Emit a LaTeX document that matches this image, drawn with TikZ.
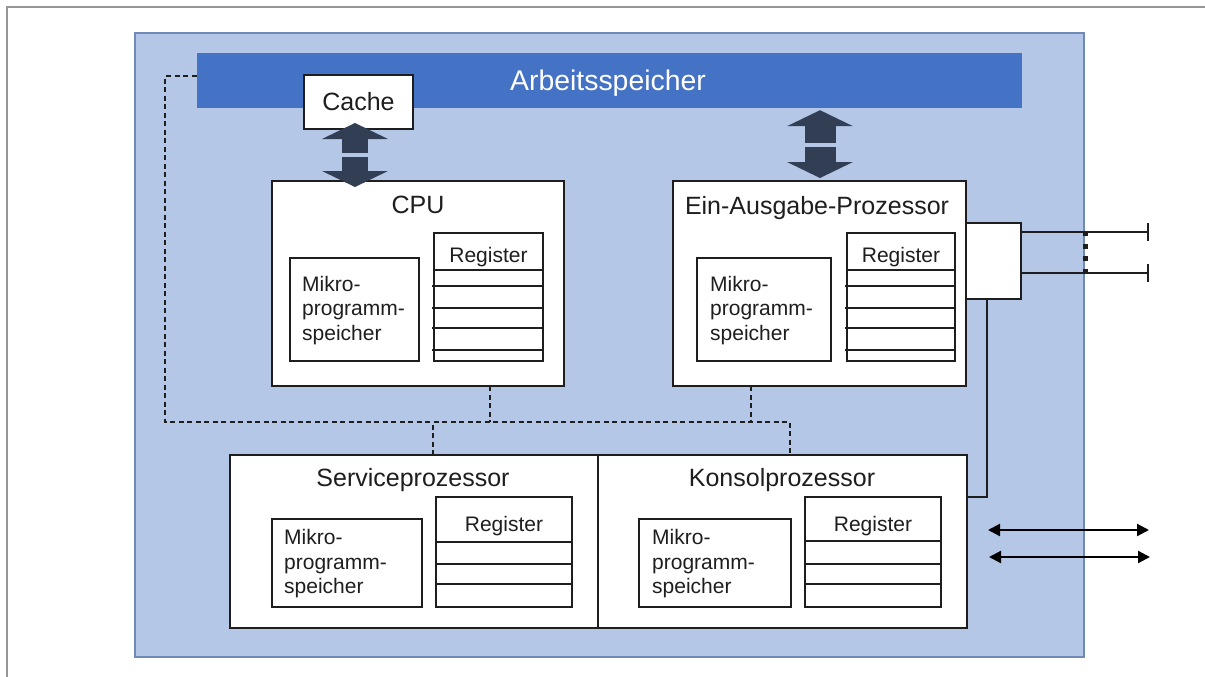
\documentclass[tikz,border=0pt]{standalone}
\usepackage{fontspec}
\setmainfont{Liberation Sans}
\usetikzlibrary{fit,arrows.meta,calc}
\definecolor{bgblue}{HTML}{B4C7E7}
\definecolor{bgedge}{RGB}{112,138,184}
\definecolor{membar}{HTML}{4472C4}
\definecolor{arrdark}{RGB}{50,62,84}
\definecolor{ink}{RGB}{30,30,30}
\definecolor{framegray}{RGB}{150,150,150}
\begin{document}
\begin{tikzpicture}[x=1pt,y=-1pt,
  box/.style={draw=ink, line width=2.2pt, fill=white, inner sep=0pt, outer sep=0pt},
  titletext/.style={font=\fontsize{25}{30}\selectfont, text=ink, inner sep=0pt, anchor=base},
  smalltext/.style={font=\fontsize{21}{24.5}\selectfont, text=ink, inner sep=0pt},
  regline/.style={draw=ink, line width=1.8pt},
  dl/.style={draw=ink, line width=2pt, dash pattern=on 5pt off 3.5pt},
  conn/.style={draw=ink, line width=2.6pt},
  blockarrow/.style={draw=arrdark, line width=#1, -{Triangle[length=16pt,width=66pt,line width=0pt]}},
  dblarrow/.style={draw=black, line width=2.2pt, {Triangle[length=12pt,width=12pt]}-{Triangle[length=12pt,width=12pt]}},
  barend/.style={draw=ink, line width=2.2pt, -{Bar[width=18pt,line width=2.2pt]}}
]
\useasboundingbox (0,0) rectangle (1205,677);
% outer frame
\draw[framegray, line width=2.5pt] (7,677) -- (7,7) -- (1205,7);

% system background
\node[fill=bgblue, draw=bgedge, line width=1.6pt, inner sep=0pt, fit={(135,33) (1084,657)}] (sys) {};
% main memory bar
\node[fill=membar, inner sep=0pt, fit={(197,53) (1022,108)}] (mem) {};
\node[font=\fontsize{28.4}{34}\selectfont, text=white, inner sep=0pt] (memlabel) at (608,83) {Arbeitsspeicher};

% dashed service bus
\coordinate (busl) at (165,422);
\draw[dl] ([yshift=4pt]mem.west) -| (busl) -| (790,455);

% CPU
\node[box, fit={(272,181) (564,386)}] (cpu) {};
\node[titletext] (cputitle) at (418,213) {CPU};
\node[box, fit={(290,258) (419,361)}] (cpump) {};
\node[smalltext, align=left, anchor=west] (cpumptext) at ([xshift=12pt,yshift=-1pt]cpump.west) {Mikro-\\programm-\\speicher};
\node[box, fit={(434,233) (543,361)}] (cpureg) {};
\node[smalltext, anchor=base] (cpuregtext) at (cpureg.north |- 0,262) {Register};
\draw[regline] (cpureg.west |- 0,270) -- (cpureg.east |- 0,270);
\foreach \yy in {286,308,328,350}
  \draw[regline] ([xshift=-2pt]cpureg.west |- 0,\yy) -- (cpureg.east |- 0,\yy);

% Ein-Ausgabe-Prozessor
\node[box, fit={(673,181) (966,386)}] (eap) {};
\node[titletext] (eaptitle) at (817,214) {Ein-Ausgabe-Prozessor};
\node[box, fit={(697,258) (831,361)}] (eapmp) {};
\node[smalltext, align=left, anchor=west] (eapmptext) at ([xshift=13pt,yshift=-1pt]eapmp.west) {Mikro-\\programm-\\speicher};
\node[box, fit={(847,233) (955,361)}] (eapreg) {};
\node[smalltext, anchor=base] (eapregtext) at (eapreg.north |- 0,262) {Register};
\draw[regline] (eapreg.west |- 0,270) -- (eapreg.east |- 0,270);
\foreach \yy in {286,308,328,350}
  \draw[regline] ([xshift=-2pt]eapreg.west |- 0,\yy) -- (eapreg.east |- 0,\yy);

% port box
\node[box, fit={(966,223) (1021,299)}] (port) {};
\coordinate (t1) at (1149,232);
\coordinate (t2) at (1149,273);
\draw[barend] (port.east |- t1) -- (t1);
\draw[barend] (port.east |- t2) -- (t2);
\draw[draw=ink, line width=5pt, dash pattern=on 5pt off 7.5pt] (1085,231) -- (1085,275);

% Serviceprozessor
\node[box, fit={(230,455) (598,628)}] (serv) {};
\node[titletext] (servtitle) at (413,486) {Serviceprozessor};
\node[box, fit={(272,519) (422,607)}] (servmp) {};
\node[smalltext, align=left, anchor=west] (servmptext) at ([xshift=12pt,yshift=-1pt]servmp.west) {Mikro-\\programm-\\speicher};
\node[box, fit={(436,497) (572,607)}] (servreg) {};
\node[smalltext, anchor=base] (servregtext) at (servreg.north |- 0,531) {Register};
\foreach \yy in {542,564,584}
  \draw[regline] (servreg.west |- 0,\yy) -- (servreg.east |- 0,\yy);

% Konsolprozessor
\node[box, fit={(598,455) (967,628)}] (kons) {};
\node[titletext] (konstitle) at (782,486) {Konsolprozessor};
\node[box, fit={(639,519) (791,607)}] (konsmp) {};
\node[smalltext, align=left, anchor=west] (konsmptext) at ([xshift=13pt,yshift=-1pt]konsmp.west) {Mikro-\\programm-\\speicher};
\node[box, fit={(805,497) (941,607)}] (konsreg) {};
\node[smalltext, anchor=base] (konsregtext) at (konsreg.north |- 0,531) {Register};
\foreach \yy in {541,564,584}
  \draw[regline] (konsreg.west |- 0,\yy) -- (konsreg.east |- 0,\yy);

% dashed drops
\draw[dl] ([xshift=72pt]cpu.south) -- ([xshift=72pt]cpu.south |- busl);
\draw[dl] ([xshift=-68.5pt]eap.south) -- ([xshift=-68.5pt]eap.south |- busl);
\draw[dl] ([xshift=19pt]serv.north) -- ([xshift=19pt]serv.north |- busl);

% solid line from port to console processor
\draw[conn] ([xshift=-6.5pt]port.south) |- ([yshift=44.5pt]kons.east);

% console double arrows
\coordinate (a1l) at (988,530);
\coordinate (a1r) at (1149,530);
\coordinate (a2l) at (989,557);
\coordinate (a2r) at (1150,557);
\draw[dblarrow] (a1l) -- (a1r);
\draw[dblarrow] (a2l) -- (a2r);

% cache
\node[box, fit={(304,75) (413,129)}] (cache) {};
\node[font=\fontsize{25}{30}\selectfont, text=ink, inner sep=0pt] (cachetext) at (cache.center) {Cache};

% block arrows
\coordinate (g1) at (355,155);
\draw[blockarrow=26pt] ([yshift=2pt]g1) -- ([yshift=6pt]g1 |- cache.south);
\draw[blockarrow=26pt] ([yshift=-2pt]g1) -- ([yshift=-6pt]g1 |- cpu.north);
\coordinate (g2) at (820,145);
\draw[blockarrow=31pt] ([yshift=2pt]g2) -- ([yshift=-2pt]g2 |- mem.south);
\draw[blockarrow=31pt] ([yshift=-2pt]g2) -- ([yshift=3pt]g2 |- eap.north);
\end{tikzpicture}
\end{document}
